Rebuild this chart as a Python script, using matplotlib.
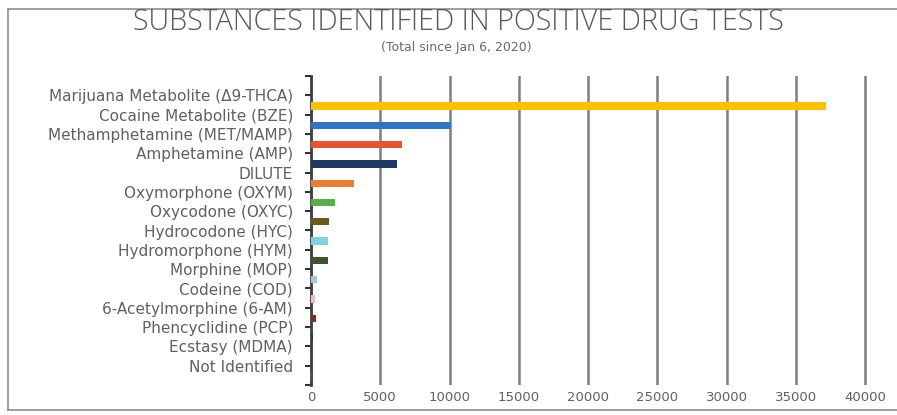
import matplotlib
matplotlib.use("Agg")
import matplotlib.pyplot as plt
import numpy as np
from matplotlib.lines import Line2D

substances = [
    "Marijuana Metabolite (\u03949-THCA)",
    "Cocaine Metabolite (BZE)",
    "Methamphetamine (MET/MAMP)",
    "Amphetamine (AMP)",
    "DILUTE",
    "Oxymorphone (OXYM)",
    "Oxycodone (OXYC)",
    "Hydrocodone (HYC)",
    "Hydromorphone (HYM)",
    "Morphine (MOP)",
    "Codeine (COD)",
    "6-Acetylmorphine (6-AM)",
    "Phencyclidine (PCP)",
    "Ecstasy (MDMA)",
    "Not Identified",
]
counts = [37200, 10100, 6600, 6200, 3100, 1700, 1300, 1250, 1250, 400, 300, 350, 150, 100, 50]
bar_colors = ["#FFC000", "#2E75C6", "#E9542D", "#1F3864", "#ED7D31", "#5AAE48",
              "#6B5A1E", "#7FD3E6", "#3E5330", "#A8C6D8", "#F2B8C6", "#8B2A1A",
              "#333333", "#404040", "#505050"]
x_ticks = [0, 5000, 10000, 15000, 20000, 25000, 30000, 35000, 40000]

plt.rcParams['font.family'] = ['DejaVu Sans']
fig = plt.figure(figsize=(8.97, 4.15), dpi=100)
W, H = 897, 415

# chart border
for xs, ys in [((8, 8), (9, 410)), ((8, 897), (9, 9)), ((8, 897), (410, 410))]:
    fig.add_artist(Line2D([x / W for x in xs], [1 - y / H for y in ys],
                          color="#8c8c8c", lw=1.2, transform=fig.transFigure))

fig.text(458 / W, 1 - 22.5 / H, "SUBSTANCES IDENTIFIED IN POSITIVE DRUG TESTS",
         ha="center", va="center", fontsize=20.7, color="#595959",
         fontweight="light", family=["Open Sans", "DejaVu Sans"])
fig.text(456 / W, 1 - 48 / H, "(Total since Jan 6, 2020)",
         ha="center", va="center", fontsize=9, color="#6a6a6a")

x_right = 880
ax = fig.add_axes([311 / W, 30 / H, (x_right - 311) / W, (385 - 76) / H])
n = len(substances)
tick_pos = np.arange(1, n + 1)
ax.barh(tick_pos + 0.55, counts, height=0.38, color=bar_colors, zorder=3)
ax.set_ylim(n + 1, 0)
ax.set_xlim(0, 40000 * (x_right - 311) / (865 - 311))
ax.set_yticks(np.arange(0, n + 2))
ax.set_yticklabels([""] + substances + [""], fontsize=11, color="#606060")
ax.set_xticks(x_ticks)
ax.set_xticklabels([str(v) for v in x_ticks], fontsize=9.5, color="#606060")
ax.tick_params(axis="x", length=0, pad=4)
ax.tick_params(axis="y", length=4, width=1.5, color="#333333", pad=9)
for s in ["top", "right", "bottom"]:
    ax.spines[s].set_visible(False)
ax.spines["left"].set_color("#404040")
ax.spines["left"].set_linewidth(2)
ax.grid(axis="x", color="#7f7f7f", lw=1.8, zorder=1)
ax.set_axisbelow(True)

fig.savefig("out.png", dpi=100)
